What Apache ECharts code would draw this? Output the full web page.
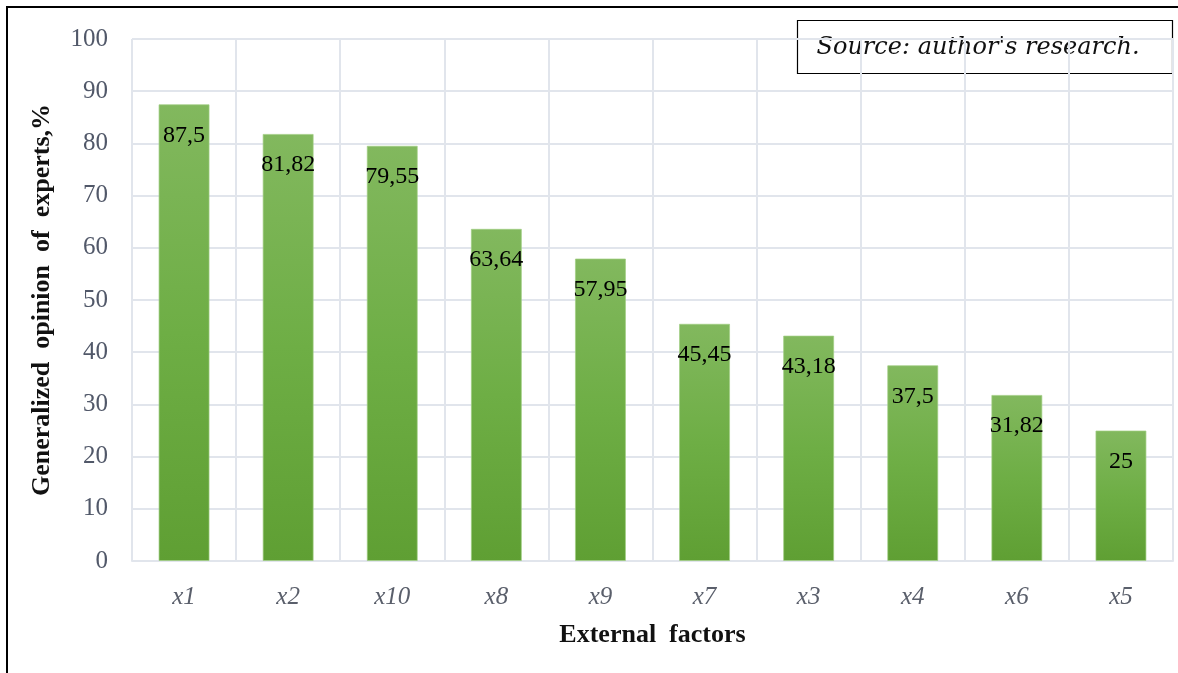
<!DOCTYPE html>
<html>
<head>
	<meta charset="UTF-8">
	<title>External factors</title>
	<style>
		html, body { margin: 0; padding: 0; background: #fff; }
		#chart { width: 1178px; height: 673px; }
	</style>
</head>
<body>
	<div id="chart"></div>
	<script src="https://cdn.jsdelivr.net/npm/echarts@6/dist/echarts.min.js"></script>
	<script type="text/javascript">
		var factors = ['x1', 'x2', 'x10', 'x8', 'x9', 'x7', 'x3', 'x4', 'x6', 'x5'];
		var opinion = [87.5, 81.82, 79.55, 63.64, 57.95, 45.45, 43.18, 37.5, 31.82, 25];
		var yTicks = [0, 10, 20, 30, 40, 50, 60, 70, 80, 90, 100];

		var serif = '"Liberation Serif", "Times New Roman", serif';
		var myChart = echarts.init(document.getElementById('chart'));

		var option = {
			animation: false,
			backgroundColor: '#fff',
			grid: {
				left: 132,
				right: 5,
				top: 39,
				bottom: 112
			},
			xAxis: {
				type: 'category',
				data: factors,
				name: 'External  factors',
				nameLocation: 'middle',
				nameGap: 61,
				nameTextStyle: {
					fontFamily: serif,
					fontWeight: 'bold',
					fontSize: 26,
					color: '#111'
				},
				axisLine: { lineStyle: { color: '#e1e5ec', width: 2 } },
				axisTick: { show: false },
				splitLine: { show: true, lineStyle: { color: '#e1e5ec', width: 2 } },
				axisLabel: {
					margin: 24,
					fontFamily: serif,
					fontStyle: 'italic',
					fontSize: 25,
					color: '#5a5f6b'
				}
			},
			yAxis: {
				type: 'value',
				min: yTicks[0],
				max: yTicks[yTicks.length - 1],
				interval: 10,
				name: 'Generalized  opinion  of  experts,%',
				nameLocation: 'middle',
				nameGap: 77,
				nameTextStyle: {
					fontFamily: serif,
					fontWeight: 'bold',
					fontSize: 26,
					color: '#111'
				},
				axisLine: { show: false },
				axisTick: { show: false },
				splitLine: { lineStyle: { color: '#e1e5ec', width: 2 } },
				axisLabel: {
					margin: 24,
					fontFamily: serif,
					fontSize: 25,
					color: '#515869'
				}
			},
			series: [{
				type: 'bar',
				data: opinion,
				barWidth: 51,
				itemStyle: {
					borderColor: 'rgba(160,205,130,0.7)',
					borderWidth: 1,
					color: new echarts.graphic.LinearGradient(0, 0, 0, 1, [
						{ offset: 0, color: '#82b85e' },
						{ offset: 0.5, color: '#6eae45' },
						{ offset: 1, color: '#5f9f33' }
					])
				},
				label: {
					show: true,
					position: 'insideTop',
					distance: 19,
					fontFamily: serif,
					fontSize: 24,
					color: '#000',
					formatter: function(p) {
						return String(p.value).replace('.', ',');
					}
				}
			}],
			graphic: [
				{
					type: 'line',
					shape: { x1: 6, y1: 7, x2: 1178, y2: 7 },
					style: { stroke: '#000', lineWidth: 2 }
				},
				{
					type: 'line',
					shape: { x1: 7, y1: 6, x2: 7, y2: 673 },
					style: { stroke: '#000', lineWidth: 2 }
				},
				{
					type: 'rect',
					shape: { x: 797.5, y: 20.5, width: 375, height: 53 },
					style: { fill: '#fff', stroke: '#000', lineWidth: 1.2 }
				},
				{
					type: 'text',
					x: 978,
					y: 48,
					style: {
						text: "Source: author's research.",
						font: 'italic 24px "DejaVu Serif", serif',
						fill: '#111',
						align: 'center',
						verticalAlign: 'middle'
					}
				}
			]
		};

		myChart.setOption(option);
	</script>
</body>
</html>
